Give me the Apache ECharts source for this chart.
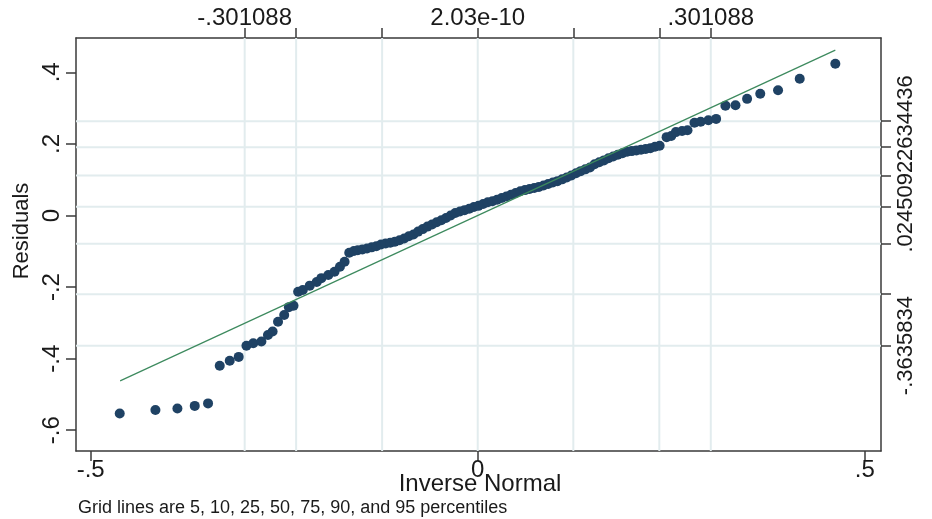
<!DOCTYPE html>
<html>
<head>
<meta charset="utf-8">
<script src="https://cdn.jsdelivr.net/npm/echarts@6/dist/echarts.min.js"></script>
<style>
html,body{margin:0;padding:0;background:#fff}
#chart{width:932px;height:519px}
</style>
</head>
<body>
<div id="chart"></div>
<script>
// inverse normal quantile (x) and residual (y) of each point
const invNorm = [
  -0.4625, -0.4164, -0.388, -0.3656, -0.3484, -0.3333, -0.3204, -0.3088, -0.2988, -0.290,
  -0.2795, -0.271, -0.265, -0.258, -0.250, -0.244, -0.238, -0.232, -0.226, -0.217,
  -0.208, -0.202, -0.193, -0.185, -0.178, -0.172, -0.166,
  -0.160, -0.155, -0.149, -0.143, -0.137, -0.131, -0.125, -0.119, -0.113, -0.107,
  -0.101, -0.095, -0.089, -0.083, -0.077, -0.071, -0.065, -0.059, -0.053, -0.047,
  -0.041, -0.035, -0.029, -0.023, -0.017, -0.011, -0.005, 0.001, 0.007, 0.013,
  0.019, 0.025, 0.031, 0.037, 0.043, 0.049, 0.055, 0.061, 0.067, 0.073,
  0.079, 0.085, 0.091, 0.097, 0.103, 0.109, 0.115, 0.121, 0.127, 0.133,
  0.139, 0.145, 0.151, 0.157, 0.163, 0.169, 0.175, 0.181, 0.187, 0.193,
  0.199, 0.205, 0.211, 0.217, 0.223, 0.229, 0.235,
  0.244, 0.250, 0.256, 0.264, 0.271, 0.280, 0.288, 0.298, 0.308, 0.320,
  0.333, 0.348, 0.365, 0.388, 0.416, 0.462
];
const resid = [
  -0.553, -0.5435, -0.539, -0.532, -0.525, -0.420, -0.406, -0.395, -0.364, -0.357,
  -0.352, -0.334, -0.324, -0.297, -0.278, -0.256, -0.252, -0.213, -0.208, -0.196,
  -0.186, -0.175, -0.166, -0.157, -0.143, -0.129, -0.104,
  -0.099, -0.097, -0.095, -0.092, -0.089, -0.086, -0.081, -0.078, -0.076, -0.073,
  -0.069, -0.064, -0.058, -0.053, -0.045, -0.038, -0.031, -0.025, -0.019, -0.013,
  -0.007, 0.000, 0.007, 0.011, 0.015, 0.019, 0.024, 0.027, 0.032, 0.037,
  0.040, 0.044, 0.049, 0.053, 0.058, 0.063, 0.068, 0.071, 0.074, 0.077,
  0.080, 0.084, 0.088, 0.092, 0.096, 0.101, 0.106, 0.112, 0.118, 0.124,
  0.129, 0.134, 0.143, 0.149, 0.154, 0.160, 0.165, 0.170, 0.174, 0.178,
  0.180, 0.182, 0.184, 0.186, 0.188, 0.192, 0.195,
  0.219, 0.222, 0.233, 0.236, 0.238, 0.259, 0.262, 0.266, 0.270, 0.307,
  0.308, 0.326, 0.340, 0.350, 0.382, 0.424
];

// reference line ends
const refX = [-0.462, 0.462];
const refY = [-0.462, 0.462];

// 5,10,25,50,75,90,95 percentiles (grid lines)
const normPct = [-0.301088, -0.2346, -0.1235, 2.03e-10, 0.1235, 0.2346, 0.301088];
const residPct = [-0.3635834, -0.220, -0.079, 0.0245092, 0.112, 0.191, 0.2634436];
const normPctLabels = [-0.301088, 2.03e-10, 0.301088];
const residPctLabels = [-0.3635834, 0.0245092, 0.2634436];

const xTicks = [-0.5, 0, 0.5];
const yTicks = [-0.6, -0.4, -0.2, 0, 0.2, 0.4];

const xMin = -0.519, xMax = 0.521;
const yMin = -0.658, yMax = 0.496;

// stata style numbers: .4 , -.301088
function stata(v) {
  if (v === 0) return '0';
  return String(v).replace(/^(-?)0\./, '$1.');
}

const font = 'Liberation Sans, Arial, Helvetica, sans-serif';
const axisColor = '#3a3a3a';
const txt = '#1a1a1a';
const gridColor = '#e2ecee';

function axisBase(min, max) {
  return {
    type: 'value', min: min, max: max,
    axisLine: {show: true, onZero: false, lineStyle: {color: axisColor, width: 1.5}},
    splitLine: {show: false},
    axisTick: {show: true, length: 10, lineStyle: {color: axisColor, width: 1.5}},
    axisLabel: {formatter: stata, color: txt, fontSize: 24, fontFamily: font, hideOverlap: false}
  };
}

const xb = axisBase(xMin, xMax);
xb.position = 'bottom';
xb.axisTick.customValues = xTicks;
xb.axisLabel.customValues = xTicks;
xb.axisLabel.margin = 7;

const xt = axisBase(xMin, xMax);
xt.position = 'top';
xt.axisTick.customValues = normPct;
xt.axisLabel.customValues = normPctLabels;
xt.axisLabel.margin = 8;

const yl = axisBase(yMin, yMax);
yl.position = 'left';
yl.axisTick.customValues = yTicks;
yl.axisLabel.customValues = yTicks;
yl.axisLabel.rotate = 90;
yl.axisLabel.margin = 12;

// right axis: ticks at all percentiles, labels at 5 and 50
const yr = axisBase(yMin, yMax);
yr.position = 'right';
yr.axisTick.customValues = residPct;
yr.axisLabel.customValues = residPctLabels.slice(0, 2);
yr.axisLabel.rotate = 90;
yr.axisLabel.fontSize = 22;
yr.axisLabel.margin = 14;

// 95th percentile label, on its own axis so it is not dropped next to the 50th
const yr2 = axisBase(yMin, yMax);
yr2.position = 'right';
yr2.axisLine.show = false;
yr2.axisTick.show = false;
yr2.axisLabel.customValues = residPctLabels.slice(2);
yr2.axisLabel.rotate = 90;
yr2.axisLabel.fontSize = 22;
yr2.axisLabel.margin = 14;

// percentile grid lines as plain line series (kept under the markers)
const gridSeries = normPct.map(v => ({
  type: 'line', z: 1, silent: true, symbol: 'none',
  data: [[v, yMin], [v, yMax]],
  lineStyle: {color: gridColor, width: 2}
})).concat(residPct.map(v => ({
  type: 'line', z: 1, silent: true, symbol: 'none',
  data: [[xMin, v], [xMax, v]],
  lineStyle: {color: gridColor, width: 2}
})));

const chart = echarts.init(document.getElementById('chart'));
chart.setOption({
  animation: false,
  backgroundColor: '#fff',
  grid: {left: 76, right: 51, top: 38, bottom: 68, containLabel: false, outerBoundsMode: 'none'},
  xAxis: [xb, xt],
  yAxis: [yl, yr, yr2],
  graphic: [
    {type: 'text', x: 22, y: 231, rotation: Math.PI / 2,
     style: {text: 'Residuals', fontSize: 22, fontFamily: font, fill: txt, align: 'center', verticalAlign: 'middle'}},
    {type: 'text', x: 480, y: 484,
     style: {text: 'Inverse Normal', fontSize: 24, fontFamily: font, fill: txt, align: 'center', verticalAlign: 'middle'}},
    {type: 'text', left: 78, top: 499,
     style: {text: 'Grid lines are 5, 10, 25, 50, 75, 90, and 95 percentiles', fontSize: 18, fontFamily: font, fill: txt}}
  ],
  series: gridSeries.concat([
    {
      type: 'scatter', z: 5,
      data: invNorm.map((x, i) => [x, resid[i]]),
      symbol: 'circle', symbolSize: 10,
      itemStyle: {color: '#1f4264', opacity: 1}
    },
    {
      type: 'line', z: 6,
      data: refX.map((x, i) => [x, refY[i]]),
      symbol: 'none',
      lineStyle: {color: '#3d8a5e', width: 1.2}
    }
  ])
});
</script>
</body>
</html>
